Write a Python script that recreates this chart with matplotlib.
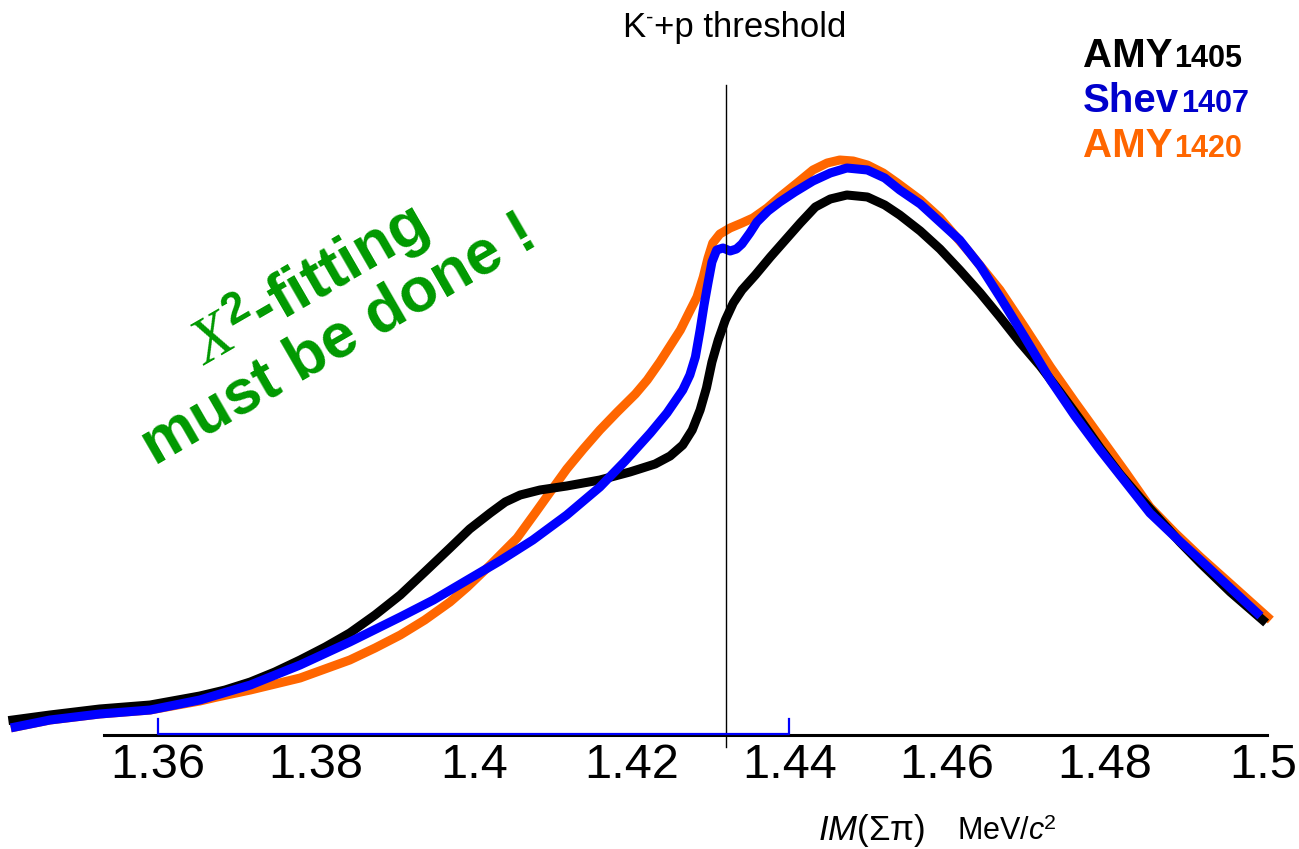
import matplotlib.pyplot as plt

plt.rcParams['font.family'] = ['Liberation Sans', 'DejaVu Sans']
plt.rcParams['mathtext.fontset'] = 'custom'
plt.rcParams['mathtext.rm'] = 'Liberation Sans'
plt.rcParams['mathtext.it'] = 'Liberation Serif:italic'
plt.rcParams['mathtext.sf'] = 'Liberation Sans:italic'
plt.rcParams['mathtext.bf'] = 'Liberation Sans:bold'

# invariant mass (GeV) and spectrum height (arb. units)
amy1405_x = [1.3416, 1.3463, 1.3526, 1.3590, 1.3653, 1.3685, 1.3717, 1.3748, 1.3780, 1.3812,
             1.3843, 1.3875, 1.3907, 1.3938, 1.3970, 1.3995, 1.4021, 1.4040, 1.4059, 1.4084,
             1.4118, 1.4160, 1.4198, 1.4230, 1.4249, 1.4265, 1.4277, 1.4287, 1.4295, 1.4302,
             1.4310, 1.4319, 1.4329, 1.4340, 1.4357, 1.4376, 1.4395, 1.4414, 1.4433, 1.4452,
             1.4473, 1.4499, 1.4521, 1.4540, 1.4566, 1.4591, 1.4616, 1.4642, 1.4667, 1.4692,
             1.4718, 1.4743, 1.4769, 1.4794, 1.4819, 1.4845, 1.4870, 1.4895, 1.4921, 1.4959,
             1.5000]
amy1405_y = [1.5, 2.0, 2.6, 3.0, 3.9, 4.5, 5.3, 6.3, 7.5, 8.8,
             10.2, 12.0, 14.0, 16.3, 18.7, 20.6, 22.2, 23.3, 24.0, 24.5,
             24.9, 25.5, 26.3, 27.1, 27.9, 29.0, 30.5, 32.5, 34.7, 37.3,
             39.5, 41.5, 43.2, 44.5, 46.0, 47.8, 49.5, 51.2, 52.8, 53.6,
             54.0, 53.8, 53.0, 52.0, 50.4, 48.6, 46.5, 44.2, 41.8, 39.3,
             36.9, 34.3, 31.5, 28.7, 26.1, 23.7, 21.5, 19.3, 17.2, 14.3,
             11.5]

shev1407_x = [1.3419, 1.3463, 1.3526, 1.3590, 1.3653, 1.3717, 1.3780, 1.3843, 1.3907, 1.3949,
              1.3992, 1.4033, 1.4075, 1.4118, 1.4160, 1.4192, 1.4224, 1.4245, 1.4265, 1.4274,
              1.4281, 1.4287, 1.4292, 1.4297, 1.4302, 1.4308, 1.4316, 1.4325, 1.4333, 1.4340,
              1.4350, 1.4359, 1.4373, 1.4388, 1.4407, 1.4430, 1.4452, 1.4473, 1.4499, 1.4521,
              1.4540, 1.4566, 1.4591, 1.4616, 1.4642, 1.4667, 1.4699, 1.4731, 1.4762, 1.4794,
              1.4826, 1.4857, 1.4889, 1.4921, 1.4959, 1.4993]
shev1407_y = [0.8, 1.5, 2.1, 2.5, 3.5, 5.0, 7.0, 9.3, 11.8, 13.5,
              15.5, 17.4, 19.5, 22.0, 24.8, 27.4, 30.2, 32.2, 34.5, 36.0,
              37.8, 40.5, 43.0, 45.2, 47.3, 48.5, 48.7, 48.4, 48.6, 49.1,
              50.2, 51.3, 52.4, 53.3, 54.3, 55.4, 56.2, 56.7, 56.5, 55.7,
              54.5, 53.1, 51.3, 49.5, 46.9, 43.8, 39.7, 35.5, 31.9, 28.5,
              25.3, 22.2, 19.8, 17.5, 14.7, 12.2]

amy1420_x = [1.3419, 1.3463, 1.3526, 1.3590, 1.3653, 1.3675, 1.3717, 1.3780, 1.3843, 1.3875,
             1.3907, 1.3938, 1.3970, 1.3992, 1.4021, 1.4055, 1.4078, 1.4097, 1.4118, 1.4139,
             1.4160, 1.4182, 1.4205, 1.4220, 1.4236, 1.4249, 1.4262, 1.4274, 1.4283, 1.4291,
             1.4297, 1.4303, 1.4312, 1.4325, 1.4340, 1.4354, 1.4372, 1.4388, 1.4410, 1.4430,
             1.4448, 1.4464, 1.4481, 1.4499, 1.4519, 1.4537, 1.4566, 1.4591, 1.4629, 1.4667,
             1.4699, 1.4731, 1.4762, 1.4794, 1.4826, 1.4857, 1.4889, 1.4921, 1.4965, 1.5006]
amy1420_y = [0.8, 1.5, 2.1, 2.5, 3.4, 3.8, 4.5, 5.7, 7.5, 8.7,
             10.0, 11.5, 13.3, 14.8, 17.0, 19.7, 22.2, 24.3, 26.6, 28.6,
             30.5, 32.3, 34.1, 35.5, 37.3, 38.9, 40.5, 42.4, 43.8, 45.8,
             47.7, 49.2, 50.1, 50.7, 51.2, 51.7, 52.7, 53.8, 55.2, 56.5,
             57.2, 57.5, 57.4, 57.0, 56.2, 55.2, 53.5, 51.7, 48.2, 44.5,
             40.7, 36.8, 33.3, 29.8, 26.3, 22.8, 20.2, 17.8, 14.7, 11.8]

tick_vals = [1.36, 1.38, 1.40, 1.42, 1.44, 1.46, 1.48, 1.50]
tick_labels = ['1.36', '1.38', '1.4', '1.42', '1.44', '1.46', '1.48', '1.5']

kp_threshold = 1.432
fit_range = [1.36, 1.44]

W, H = 1299, 849
fig = plt.figure(figsize=(W / 100, H / 100), dpi=100)
ax = fig.add_axes([0, 114 / H, 1, 735 / H])
ax.set_xlim(1.33997, 1.5046)
ax.set_ylim(0, 73.5)

lw = 6.5
ax.plot(amy1420_x, amy1420_y, color='#FF6600', lw=lw, solid_joinstyle='round', zorder=3, clip_on=False)
ax.plot(amy1405_x, amy1405_y, color='black', lw=lw, solid_joinstyle='round', zorder=4, clip_on=False)
ax.plot(shev1407_x, shev1407_y, color='#0000FF', lw=lw, solid_joinstyle='round', zorder=5, clip_on=False)

# K- p threshold marker
ax.plot([kp_threshold, kp_threshold], [-1.2, 65], color='black', lw=1.0, zorder=6, clip_on=False)

# fit range bracket, sitting on the axis line
ax.plot([fit_range[0], fit_range[0], fit_range[1], fit_range[1]], [1.6, 0.15, 0.15, 1.6],
        color='#0000FF', lw=1.6, zorder=7, clip_on=False)

for side in ['left', 'right', 'top']:
    ax.spines[side].set_visible(False)
ax.spines['bottom'].set_bounds(1.3531, 1.5006)
ax.spines['bottom'].set_linewidth(2.2)
ax.set_yticks([])
ax.set_xticks(tick_vals, tick_labels, fontsize=35)
ax.tick_params(axis='x', length=0, pad=6)


def fx(px):
    return px / W


def fy(py):
    return 1 - py / H


renderer = fig.canvas.get_renderer()


def right_edge(t):
    return t.get_window_extent(renderer).x1 / W


# "K-+p threshold" with a short raised dash
t = fig.text(fx(622), fy(37), 'K', ha='left', va='baseline', fontsize=25)
t = fig.text(right_edge(t) + 1 / W, fy(24), '-', ha='left', va='baseline', fontsize=16)
fig.text(right_edge(t) + 1 / W, fy(37), '+p threshold', ha='left', va='baseline', fontsize=25)

# axis title
fig.text(fx(818), fy(840), r'$\mathsf{IM}$(Σπ)', ha='left', va='baseline', fontsize=25)
fig.text(fx(957), fy(840), r'MeV/$\mathsf{c}^{2}$', ha='left', va='baseline', fontsize=22)

# legend-like labels
legend_rows = [('AMY', '1405', 'black', 67), ('Shev', '1407', '#0000CC', 112), ('AMY', '1420', '#FF6600', 157)]
for name, mass, col, base in legend_rows:
    t = fig.text(fx(1083), fy(base), name, ha='left', va='baseline', fontsize=29,
                 fontweight='bold', color=col)
    fig.text(right_edge(t) + 2 / W, fy(base), mass, ha='left', va='baseline', fontsize=22,
             fontweight='bold', color=col)

fig.text(fx(322), fy(310), r'$\mathit{X}^{\mathbf{2}}$-fitting' + '\nmust be done !',
         rotation=30, rotation_mode='anchor', ha='center', va='center',
         multialignment='center', fontsize=45, fontweight='bold', color='#009900',
         linespacing=1.0)

fig.savefig('out.png', dpi=100)
